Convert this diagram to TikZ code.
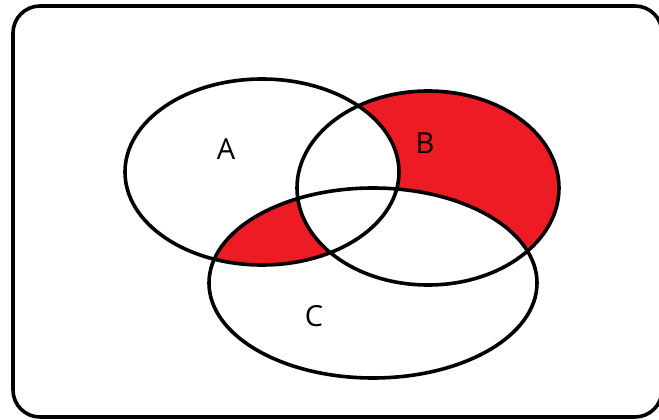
\documentclass[tikz,border=0pt]{standalone}
\usepackage{fontspec}
\setmainfont{Open Sans}
\usepackage{xcolor}
\definecolor{vennred}{RGB}{237,28,36}
\usetikzlibrary{positioning}
\tikzset{
  outline/.style={draw=black,line width=3.6pt},
  lab/.style={font=\fontsize{29}{32}\selectfont,text=black,inner sep=0pt},
}
% the three sets, in pixel units (y down)
\def\setA{(262,172) ellipse [x radius=137, y radius=93]}
\def\setB{(428,188) ellipse [x radius=131, y radius=97]}
\def\setC{(373,283) ellipse [x radius=164, y radius=95]}

\begin{document}
\begin{tikzpicture}[x=1pt,y=-1pt]
    \useasboundingbox (0,0) rectangle (659,420);
    \begin{scope}
      \clip (0,0) rectangle (659,420);
      \draw[outline,rounded corners=27pt] (13,6) rectangle (662,417);
    \end{scope}
    % shaded parts: B only, and A and C without B
    \fill[vennred] \setB;
    \fill[white] \setA;
    \fill[white] \setC;
    \begin{scope}
      \clip \setA;
      \fill[vennred] \setC;
      \clip \setC;
      \fill[white] \setB;
    \end{scope}
    \draw[outline] \setA;
    \draw[outline] \setB;
    \draw[outline] \setC;
    \node[lab] (a) at (226,149) {A};
    \node[lab] (b) at (425,143) {B};
    \node[lab] (c) at (314,316) {C};
  \end{tikzpicture}
\end{document}
